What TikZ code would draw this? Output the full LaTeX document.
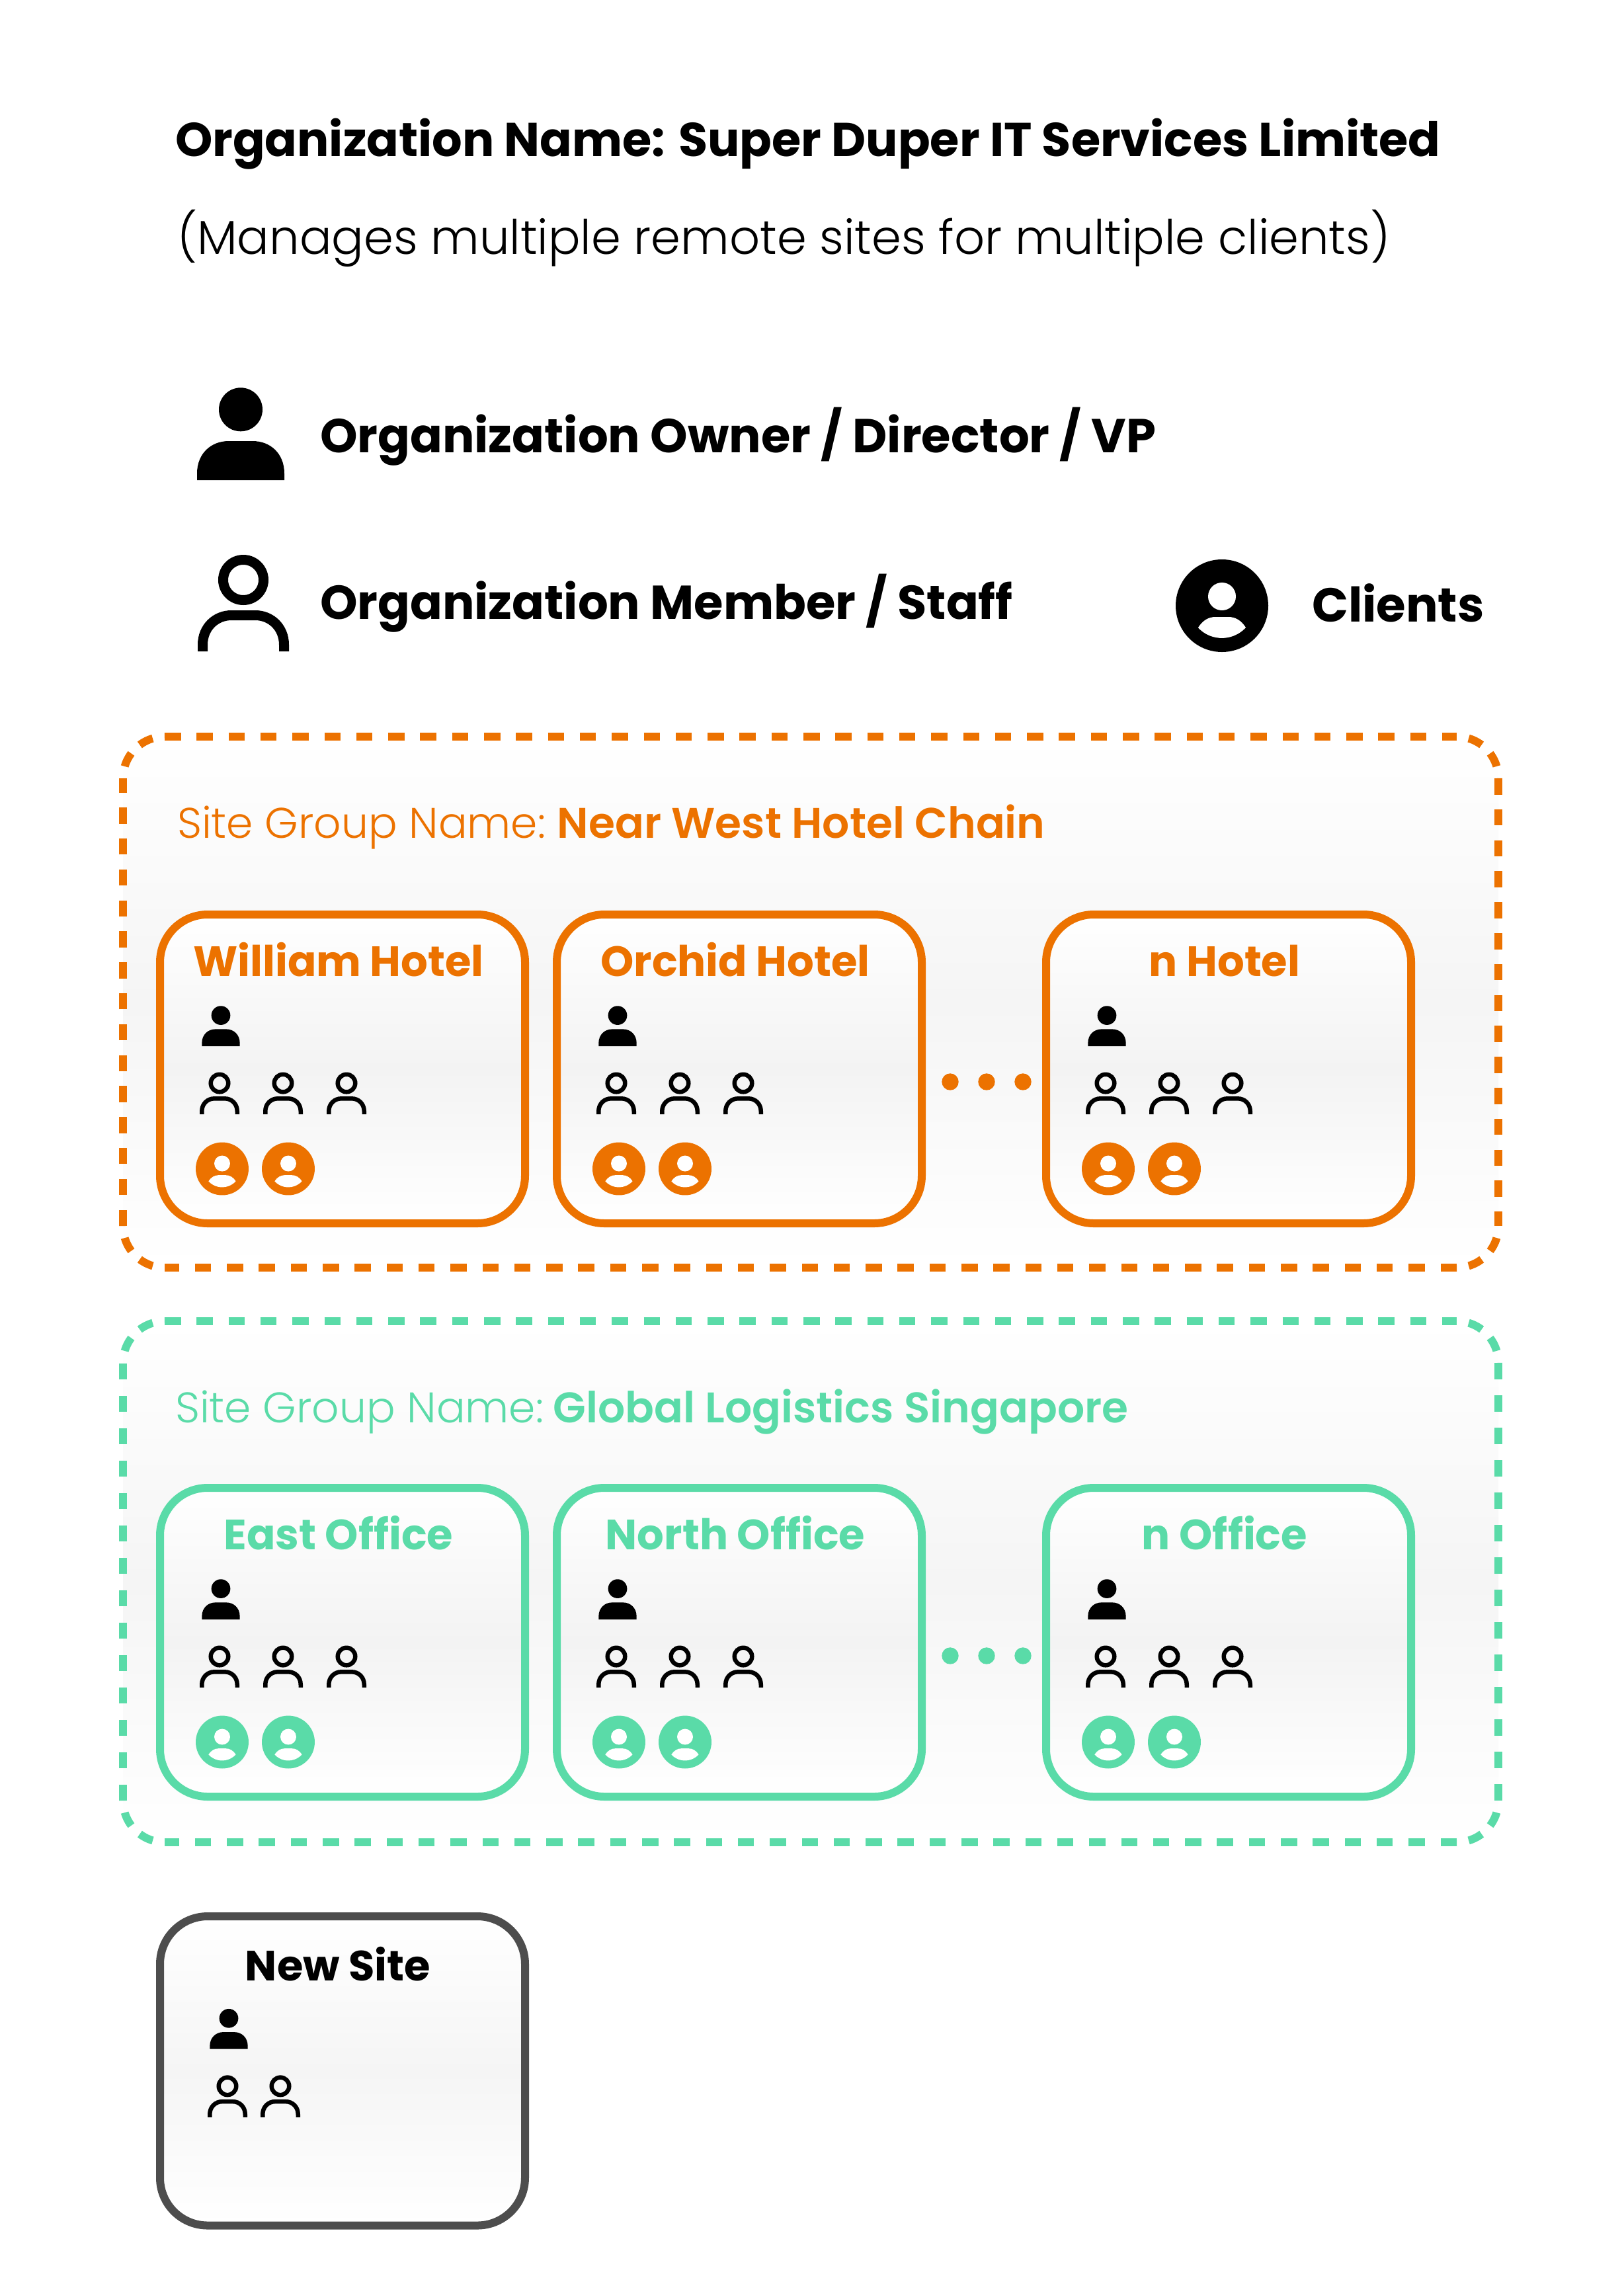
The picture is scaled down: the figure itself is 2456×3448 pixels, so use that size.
\documentclass[tikz,border=0pt]{standalone}
\usepackage{fontspec}
\setmainfont{Poppins}[UprightFont=*-Regular,BoldFont=*-Bold]
\newfontfamily\plight{Poppins Light}
\newcommand{\fs}[1]{\fontsize{#1}{#1}\selectfont}
\definecolor{org}{HTML}{EC7200}
\definecolor{grn}{HTML}{5ADBA8}
\definecolor{dgr}{HTML}{4D4D4D}
\definecolor{midg}{HTML}{F3F3F3}
\definecolor{midn}{HTML}{F5F5F5}
\tikzset{
  x=1pt,y=-1pt,
  tb/.style={anchor=base west,inner sep=0,outer sep=0},
  tc/.style={anchor=base,inner sep=0,outer sep=0},
  cardbox/.style={draw=#1,line width=12pt,rounded corners=72pt,minimum width=552pt,minimum height=467pt,inner sep=0,outer sep=0,shade,top color=white,bottom color=white,middle color=midg},
  groupfill/.style={rectangle,rounded corners=63pt,inner sep=0,outer sep=0,shade,top color=white,bottom color=white,middle color=midn},
  arcdash/.style={dash pattern=on 22pt off 18.3pt,dash phase=22pt},
  pics/mgr/.style={code={
    \fill[black] (0,-106.7) circle[radius=33];
    \fill[black] (-66,0) -- (-66,-10) .. controls (-66,-40) and (-45,-59) .. (-18,-59) -- (18,-59) .. controls (45,-59) and (66,-40) .. (66,-10) -- (66,0) -- cycle;
  }},
  pics/stf/.style={code={
    \draw[black,line width=#1] (0,-108) circle[radius=30.5];
    \draw[black,line width=#1] (-61.5,0) -- (-61.5,-10) .. controls (-61.5,-36) and (-42,-54.5) .. (-18,-54.5) -- (18,-54.5) .. controls (42,-54.5) and (61.5,-36) .. (61.5,-10) -- (61.5,0);
  }},
  pics/cli/.style={code={
    \fill[#1] (0,0) circle[radius=70];
    \fill[white] (0,-14) circle[radius=21];
    \fill[white] (-36,33) .. controls (-29,22) and (-20,17) .. (-10,17) -- (10,17) .. controls (20,17) and (29,22) .. (36,33) arc[start angle=42.5,end angle=137.5,radius=49] -- cycle;
  }},
}
% left, top, right, bottom, colour, gap on the vertical sides
\newcommand{\groupborder}[6]{%
  \begin{scope}[draw=#5,line width=12pt]
  \draw[dash pattern=on 24.5pt off 23.8pt] ({#1+63},#2) -- ({#3-63},#2);
  \draw[arcdash] ({#3-63},#2) arc[start angle=-90,end angle=0,radius=63];
  \draw[dash pattern=on 24.5pt off #6pt] (#3,{#2+63}) -- (#3,{#4-63});
  \draw[arcdash] (#3,{#4-63}) arc[start angle=0,end angle=90,radius=63];
  \draw[dash pattern=on 24.5pt off 23.8pt] ({#3-63},#4) -- ({#1+63},#4);
  \draw[arcdash] ({#1+63},#4) arc[start angle=90,end angle=180,radius=63];
  \draw[dash pattern=on 24.5pt off #6pt] (#1,{#4-63}) -- (#1,{#2+63});
  \draw[arcdash] (#1,{#2+63}) arc[start angle=180,end angle=270,radius=63];
  \end{scope}}
\newcommand{\card}[5]{%
  \node[cardbox=#3] (#5) at ({#1+276},{#2+233.5}) {};
  \node[tc,text=#3] (#5t) at ({#1+270},{#2+93}) {\bfseries\fs{64}#4};
  \pic[scale=.435] at ({#1+92},{#2+199}) {mgr};
  \foreach \k in {0,1,2}{\pic[scale=.435] at ({#1+90+96*\k},{#2+302}) {stf=6.5pt};}
  \foreach \k in {0,1}{\pic[scale=.571] at ({#1+94+100*\k},{#2+384.5}) {cli=#3};}
}
\begin{document}
\begin{tikzpicture}
\useasboundingbox (0,0) rectangle (2456,3448);
\fill[white] (0,0) rectangle (2456,3448);

\node[tb] (title) at (265,236) {\bfseries\fs{71.75}Organization Name: Super Duper IT Services Limited};
\node[tb] (sub) at (268,384) {\plight\fs{72}(Manages multiple remote sites for multiple clients)};

\pic[scale=1] at (364,726) {mgr};
\node[tb] (own) at (484,684) {\bfseries\fs{72}Organization Owner / Director / VP};
\pic[scale=1] at (368,985) {stf=15pt};
\node[tb] (mem) at (484,936) {\bfseries\fs{72}Organization Member / Staff};
\pic[scale=1] at (1848,916) {cli=black};
\node[tb] (cl) at (1984,940) {\bfseries\fs{72.2}Clients};

% group 1
\node[groupfill,minimum width=2080pt,minimum height=803pt] (g1) at (1226,1515.5) {};
\groupborder{186}{1114}{2266}{1917}{org}{22.3}
\node[tb,text=org] (g1t) at (268,1267.5) {\plight\fs{64.7}Site Group Name:\hspace{-6pt} \bfseries Near West Hotel Chain};
\card{242}{1383}{org}{William Hotel}{a1}
\card{842}{1383}{org}{Orchid Hotel}{a2}
\card{1582}{1383}{org}{n Hotel}{a3}
\foreach \x/\n in {1437/p,1492/q,1547/r}{\fill[org] (\x,1636) circle[radius=12.7];}

% group 2
\node[groupfill,minimum width=2080pt,minimum height=788pt] (g2) at (1226,2392) {};
\groupborder{186}{1998}{2266}{2786}{grn}{24.5}
\node[tb,text=grn] (g2t) at (265,2151) {\plight\fs{64.7}Site Group Name:\hspace{-9pt} \bfseries Global Logistics Singapore};
\card{242}{2250}{grn}{East Office}{b1}
\card{842}{2250}{grn}{North Office}{b2}
\card{1582}{2250}{grn}{n Office}{b3}
\foreach \x/\n in {1437/p,1492/q,1547/r}{\fill[grn] (\x,2504) circle[radius=12.7];}

% new site
\node[cardbox=dgr,minimum height=467.5pt,middle color=midn] (n) at (518,3131.75) {};
\node[tc] (nt) at (511,2995.5) {\bfseries\fs{64}New Site};
\pic[scale=.435] at (346,3098.7) {mgr};
\foreach \x in {344,424}{\pic[scale=.435] at (\x,3201.8) {stf=6.5pt};}
\end{tikzpicture}
\end{document}
